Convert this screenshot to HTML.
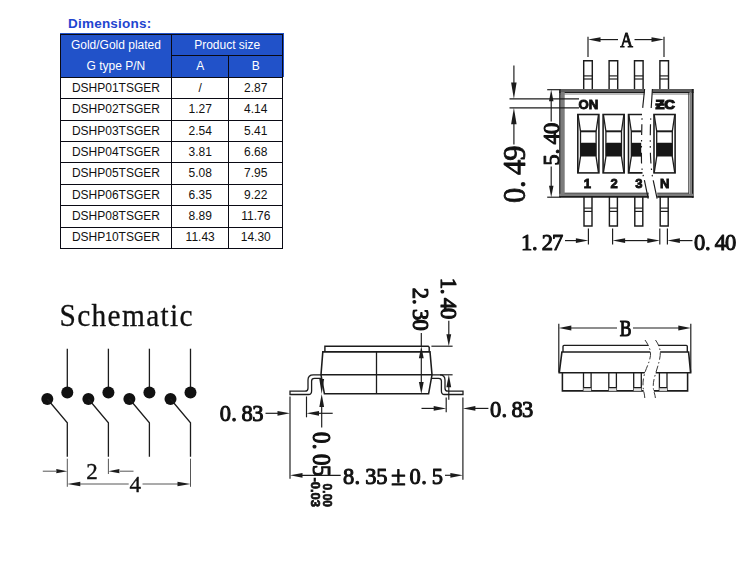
<!DOCTYPE html>
<html lang="en"><head><meta charset="utf-8"><title>Dimensions</title>
<style>
html,body{margin:0;padding:0;background:#fff;}
body{width:750px;height:576px;position:relative;overflow:hidden;font-family:"Liberation Sans",sans-serif;}
.title{position:absolute;left:68px;top:15.8px;font-size:13.5px;letter-spacing:0.22px;font-weight:bold;color:#1f45d0;line-height:16px;white-space:nowrap;}
.c{position:absolute;text-align:center;font-size:12px;color:#111;white-space:nowrap;}
.c.h{color:#fff;}
.hd{position:absolute;background:#2152c9;}
.ln{position:absolute;background:#0a0a14;}
svg{position:absolute;left:0;top:0;filter:blur(0.35px);}
svg text.cad{font-family:"Liberation Serif","Noto Serif CJK SC",serif;fill:#111;stroke:#111;stroke-width:1.0;stroke-linejoin:round;}
svg text.bs{font-family:"Liberation Sans",sans-serif;font-weight:bold;fill:#111;stroke:#111;stroke-width:0.5;}
</style></head><body>
<div class="title">Dimensions:</div>
<div class="tbl">
<div class="hd" style="left:59.70px;top:32.80px;width:224.00px;height:44.50px"></div>
<div class="c h" style="left:60.30px;top:35.00px;width:111.30px;height:21.60px;line-height:21.60px">Gold/Gold plated</div>
<div class="c h" style="left:60.30px;top:54.60px;width:111.30px;height:22.70px;line-height:22.70px">G type P/N</div>
<div class="c h" style="left:171.60px;top:35.40px;width:111.10px;height:21.60px;line-height:21.60px">Product size</div>
<div class="c h" style="left:171.60px;top:55.20px;width:57.20px;height:22.70px;line-height:22.70px">A</div>
<div class="c h" style="left:228.80px;top:55.20px;width:53.90px;height:22.70px;line-height:22.70px">B</div>
<div class="c " style="left:60.30px;top:77.84px;width:111.30px;height:20.00px;line-height:20.00px">DSHP01TSGER</div>
<div class="c " style="left:171.60px;top:77.84px;width:57.20px;height:20.00px;line-height:20.00px">/</div>
<div class="c " style="left:228.80px;top:77.84px;width:53.90px;height:20.00px;line-height:20.00px">2.87</div>
<div class="c " style="left:60.30px;top:98.84px;width:111.30px;height:20.00px;line-height:20.00px">DSHP02TSGER</div>
<div class="c " style="left:171.60px;top:98.84px;width:57.20px;height:20.00px;line-height:20.00px">1.27</div>
<div class="c " style="left:228.80px;top:98.84px;width:53.90px;height:20.00px;line-height:20.00px">4.14</div>
<div class="c " style="left:60.30px;top:120.84px;width:111.30px;height:20.00px;line-height:20.00px">DSHP03TSGER</div>
<div class="c " style="left:171.60px;top:120.84px;width:57.20px;height:20.00px;line-height:20.00px">2.54</div>
<div class="c " style="left:228.80px;top:120.84px;width:53.90px;height:20.00px;line-height:20.00px">5.41</div>
<div class="c " style="left:60.30px;top:141.84px;width:111.30px;height:20.00px;line-height:20.00px">DSHP04TSGER</div>
<div class="c " style="left:171.60px;top:141.84px;width:57.20px;height:20.00px;line-height:20.00px">3.81</div>
<div class="c " style="left:228.80px;top:141.84px;width:53.90px;height:20.00px;line-height:20.00px">6.68</div>
<div class="c " style="left:60.30px;top:162.84px;width:111.30px;height:20.00px;line-height:20.00px">DSHP05TSGER</div>
<div class="c " style="left:171.60px;top:162.84px;width:57.20px;height:20.00px;line-height:20.00px">5.08</div>
<div class="c " style="left:228.80px;top:162.84px;width:53.90px;height:20.00px;line-height:20.00px">7.95</div>
<div class="c " style="left:60.30px;top:184.84px;width:111.30px;height:20.00px;line-height:20.00px">DSHP06TSGER</div>
<div class="c " style="left:171.60px;top:184.84px;width:57.20px;height:20.00px;line-height:20.00px">6.35</div>
<div class="c " style="left:228.80px;top:184.84px;width:53.90px;height:20.00px;line-height:20.00px">9.22</div>
<div class="c " style="left:60.30px;top:205.84px;width:111.30px;height:20.00px;line-height:20.00px">DSHP08TSGER</div>
<div class="c " style="left:171.60px;top:205.84px;width:57.20px;height:20.00px;line-height:20.00px">8.89</div>
<div class="c " style="left:228.80px;top:205.84px;width:53.90px;height:20.00px;line-height:20.00px">11.76</div>
<div class="c " style="left:60.30px;top:226.84px;width:111.30px;height:20.00px;line-height:20.00px">DSHP10TSGER</div>
<div class="c " style="left:171.60px;top:226.84px;width:57.20px;height:20.00px;line-height:20.00px">11.43</div>
<div class="c " style="left:228.80px;top:226.84px;width:53.90px;height:20.00px;line-height:20.00px">14.30</div>
<div class="ln" style="left:59.75px;top:33.65px;width:223.50px;height:1.1px"></div>
<div class="ln" style="left:171.05px;top:54.65px;width:112.20px;height:1.1px"></div>
<div class="ln" style="left:59.75px;top:76.75px;width:223.50px;height:1.1px"></div>
<div class="ln" style="left:59.75px;top:98.15px;width:223.50px;height:1.1px"></div>
<div class="ln" style="left:59.75px;top:119.55px;width:223.50px;height:1.1px"></div>
<div class="ln" style="left:59.75px;top:140.95px;width:223.50px;height:1.1px"></div>
<div class="ln" style="left:59.75px;top:162.35px;width:223.50px;height:1.1px"></div>
<div class="ln" style="left:59.75px;top:183.75px;width:223.50px;height:1.1px"></div>
<div class="ln" style="left:59.75px;top:205.15px;width:223.50px;height:1.1px"></div>
<div class="ln" style="left:59.75px;top:226.55px;width:223.50px;height:1.1px"></div>
<div class="ln" style="left:59.75px;top:247.95px;width:223.50px;height:1.1px"></div>
<div class="ln" style="left:59.75px;top:33.65px;width:1.1px;height:215.40px"></div>
<div class="ln" style="left:171.05px;top:33.65px;width:1.1px;height:215.40px"></div>
<div class="ln" style="left:228.25px;top:54.65px;width:1.1px;height:194.40px"></div>
<div class="ln" style="left:282.15px;top:33.65px;width:1.1px;height:215.40px"></div>
</div>
<svg width="750" height="576" viewBox="0 0 750 576">
<line x1="588.0" y1="36.8" x2="588.0" y2="57.0" stroke="#1c1c1c" stroke-width="1.17" />
<line x1="664.0" y1="36.8" x2="664.0" y2="57.0" stroke="#1c1c1c" stroke-width="1.17" />
<polygon points="588.0,39.6 600.5,37.2 600.5,42.0" fill="#1c1c1c"/>
<polygon points="664.0,39.6 651.5,37.2 651.5,42.0" fill="#1c1c1c"/>
<line x1="600.0" y1="39.6" x2="618.0" y2="39.6" stroke="#1c1c1c" stroke-width="1.17" />
<line x1="634.5" y1="39.6" x2="652.0" y2="39.6" stroke="#1c1c1c" stroke-width="1.17" />
<text class="cad" transform="translate(620.8,47.0) scale(0.8,1)" x="7.19" y="0" font-size="22" text-anchor="middle" style="stroke-width:1.0">A</text>
<path d="M583.7,89.5 V60.8 H592.3 V89.5" stroke="#1c1c1c" stroke-width="1.43" fill="none" />
<line x1="583.7" y1="75.9" x2="592.3" y2="75.9" stroke="#1c1c1c" stroke-width="1.17" />
<line x1="583.7" y1="79.0" x2="592.3" y2="79.0" stroke="#1c1c1c" stroke-width="1.17" />
<path d="M584.0,197 V226 H592.0 V197" stroke="#1c1c1c" stroke-width="1.43" fill="none" />
<line x1="584.0" y1="208.1" x2="592.0" y2="208.1" stroke="#1c1c1c" stroke-width="1.17" />
<line x1="584.0" y1="211.4" x2="592.0" y2="211.4" stroke="#1c1c1c" stroke-width="1.17" />
<path d="M609.1,89.5 V60.8 H617.7 V89.5" stroke="#1c1c1c" stroke-width="1.43" fill="none" />
<line x1="609.1" y1="75.9" x2="617.7" y2="75.9" stroke="#1c1c1c" stroke-width="1.17" />
<line x1="609.1" y1="79.0" x2="617.7" y2="79.0" stroke="#1c1c1c" stroke-width="1.17" />
<path d="M609.4,197 V226 H617.4 V197" stroke="#1c1c1c" stroke-width="1.43" fill="none" />
<line x1="609.4" y1="208.1" x2="617.4" y2="208.1" stroke="#1c1c1c" stroke-width="1.17" />
<line x1="609.4" y1="211.4" x2="617.4" y2="211.4" stroke="#1c1c1c" stroke-width="1.17" />
<path d="M634.5,89.5 V60.8 H643.1 V89.5" stroke="#1c1c1c" stroke-width="1.43" fill="none" />
<line x1="634.5" y1="75.9" x2="643.1" y2="75.9" stroke="#1c1c1c" stroke-width="1.17" />
<line x1="634.5" y1="79.0" x2="643.1" y2="79.0" stroke="#1c1c1c" stroke-width="1.17" />
<path d="M634.8,197 V226 H642.8 V197" stroke="#1c1c1c" stroke-width="1.43" fill="none" />
<line x1="634.8" y1="208.1" x2="642.8" y2="208.1" stroke="#1c1c1c" stroke-width="1.17" />
<line x1="634.8" y1="211.4" x2="642.8" y2="211.4" stroke="#1c1c1c" stroke-width="1.17" />
<path d="M659.9,89.5 V60.8 H668.5 V89.5" stroke="#1c1c1c" stroke-width="1.43" fill="none" />
<line x1="659.9" y1="75.9" x2="668.5" y2="75.9" stroke="#1c1c1c" stroke-width="1.17" />
<line x1="659.9" y1="79.0" x2="668.5" y2="79.0" stroke="#1c1c1c" stroke-width="1.17" />
<path d="M660.2,197 V226 H668.2 V197" stroke="#1c1c1c" stroke-width="1.43" fill="none" />
<line x1="660.2" y1="208.1" x2="668.2" y2="208.1" stroke="#1c1c1c" stroke-width="1.17" />
<line x1="660.2" y1="211.4" x2="668.2" y2="211.4" stroke="#1c1c1c" stroke-width="1.17" />
<line x1="559.2" y1="90.5" x2="644.6" y2="90.5" stroke="#5c5c5c" stroke-width="3.0"/>
<line x1="560.0" y1="93.9" x2="644.6" y2="93.9" stroke="#a6a6a6" stroke-width="1.5"/>
<line x1="559.2" y1="92.5" x2="644.6" y2="92.5" stroke="#1c1c1c" stroke-width="1.1"/>
<line x1="652.2" y1="90.5" x2="693.6" y2="90.5" stroke="#5c5c5c" stroke-width="3.0"/>
<line x1="652.2" y1="93.9" x2="690.0" y2="93.9" stroke="#a6a6a6" stroke-width="1.5"/>
<line x1="652.2" y1="92.5" x2="693.6" y2="92.5" stroke="#1c1c1c" stroke-width="1.1"/>
<line x1="562.6" y1="92.0" x2="562.6" y2="196.0" stroke="#7c7c7c" stroke-width="4.2"/>
<line x1="559.9" y1="89.0" x2="559.9" y2="197.8" stroke="#1c1c1c" stroke-width="1.4"/>
<line x1="690.6" y1="92.0" x2="690.6" y2="196.0" stroke="#7c7c7c" stroke-width="2.3"/>
<line x1="688.6" y1="93.0" x2="688.6" y2="193.5" stroke="#333" stroke-width="0.8"/>
<line x1="692.7" y1="89.0" x2="692.7" y2="197.8" stroke="#1c1c1c" stroke-width="1.8"/>
<line x1="559.2" y1="194.8" x2="648.8" y2="194.8" stroke="#7c7c7c" stroke-width="2.3"/>
<line x1="564.5" y1="193.2" x2="648.8" y2="193.2" stroke="#2a2a2a" stroke-width="1.0"/>
<line x1="559.2" y1="196.9" x2="648.8" y2="196.9" stroke="#1c1c1c" stroke-width="1.8"/>
<line x1="657.2" y1="194.8" x2="693.6" y2="194.8" stroke="#7c7c7c" stroke-width="2.3"/>
<line x1="657.2" y1="193.2" x2="689.0" y2="193.2" stroke="#2a2a2a" stroke-width="1.0"/>
<line x1="657.2" y1="196.9" x2="693.6" y2="196.9" stroke="#1c1c1c" stroke-width="1.8"/>
<rect x="577.8" y="114.5" width="21.1" height="58.4" stroke="#1c1c1c" stroke-width="1.56" fill="none"/>
<path d="M578.0,114.5 L580.5,131.3 V156.6 L578.0,172.9" stroke="#1c1c1c" stroke-width="1.3" fill="none" />
<path d="M598.5,114.5 L596.1,131.3 V156.6 L598.5,172.9" stroke="#1c1c1c" stroke-width="1.3" fill="none" />
<line x1="580.5" y1="131.3" x2="596.1" y2="131.3" stroke="#1c1c1c" stroke-width="1.95" />
<rect x="580.5" y="142.8" width="15.6" height="13.8" rx="1.2" fill="#161616"/>
<rect x="603.1" y="114.5" width="21.1" height="58.4" stroke="#1c1c1c" stroke-width="1.56" fill="none"/>
<path d="M603.4,114.5 L605.9,131.3 V156.6 L603.4,172.9" stroke="#1c1c1c" stroke-width="1.3" fill="none" />
<path d="M623.9,114.5 L621.5,131.3 V156.6 L623.9,172.9" stroke="#1c1c1c" stroke-width="1.3" fill="none" />
<line x1="605.9" y1="131.3" x2="621.5" y2="131.3" stroke="#1c1c1c" stroke-width="1.95" />
<rect x="605.9" y="142.8" width="15.6" height="13.8" rx="1.2" fill="#161616"/>
<path d="M642.0,114.5 H628.5 V172.9 H642.5" stroke="#1c1c1c" stroke-width="1.56" fill="none" />
<path d="M628.8,114.5 L631.3,131.3 V156.6 L628.8,172.9" stroke="#1c1c1c" stroke-width="1.3" fill="none" />
<line x1="631.3" y1="131.3" x2="641.2" y2="131.3" stroke="#1c1c1c" stroke-width="1.95" />
<rect x="631.3" y="142.8" width="9.9" height="13.8" fill="#161616"/>
<rect x="654.0" y="114.5" width="21.1" height="58.4" stroke="#1c1c1c" stroke-width="1.56" fill="none"/>
<path d="M654.2,114.5 L656.7,131.3 V156.6 L654.2,172.9" stroke="#1c1c1c" stroke-width="1.3" fill="none" />
<path d="M674.8,114.5 L672.3,131.3 V156.6 L674.8,172.9" stroke="#1c1c1c" stroke-width="1.3" fill="none" />
<line x1="656.7" y1="131.3" x2="672.3" y2="131.3" stroke="#1c1c1c" stroke-width="1.95" />
<rect x="656.7" y="142.8" width="15.6" height="13.8" rx="1.2" fill="#161616"/>
<path d="M644.6,89 C644,96 643.2,102 642.7,108 C642.2,114 641.9,119 641.8,128 C641.5,140 641.3,152 641.5,162 C641.7,168 642.5,172 643.3,176 L644.5,180.6 L648.2,198.6" stroke="#1c1c1c" stroke-width="1.17" fill="none" stroke-dasharray="19 10.5 1.5 4.5 10.5 5 1.5 4.5 1.5 5 11 5 1.5 5 1.5 4 30"/>
<path d="M652.4,89 C652,96 651.6,102 651.2,108 C651,114 650.6,120 650.4,128 C650.2,140 650.2,150 650.6,158 C650.9,164 651.4,169 652,174 L653.5,181.7 L657.1,198.6" stroke="#1c1c1c" stroke-width="1.17" fill="none" stroke-dasharray="19 10.5 1.5 4.5 10.5 5 1.5 4.5 1.5 5 11 5 1.5 5 1.5 4 30"/>
<text class="bs" x="588.3" y="109" font-size="13.2" style="stroke-width:0.9" text-anchor="middle">ON</text>
<text class="bs" x="655.4" y="109.2" font-size="13.6" style="stroke-width:1.2" textLength="19.6" lengthAdjust="spacingAndGlyphs">ƵC</text>
<text class="bs" x="587.4" y="187.7" font-size="13" style="stroke-width:0.9" text-anchor="middle">1</text>
<text class="bs" x="614" y="187.7" font-size="13" style="stroke-width:0.9" text-anchor="middle">2</text>
<text class="bs" x="638.8" y="187.7" font-size="13" style="stroke-width:0.9" text-anchor="middle">3</text>
<text class="bs" x="664.8" y="187.7" font-size="13" style="stroke-width:0.9" text-anchor="middle">N</text>
<line x1="509.5" y1="98.9" x2="579.0" y2="98.9" stroke="#1c1c1c" stroke-width="1.3" />
<line x1="509.5" y1="107.8" x2="579.0" y2="107.8" stroke="#1c1c1c" stroke-width="1.3" />
<line x1="513.9" y1="65.6" x2="513.9" y2="86.0" stroke="#1c1c1c" stroke-width="1.17" />
<polygon points="513.9,98.9 511.1,82.4 516.6,82.4" fill="#1c1c1c"/>
<polygon points="513.9,107.8 511.1,124.3 516.6,124.3" fill="#1c1c1c"/>
<line x1="513.9" y1="124.0" x2="513.9" y2="144.4" stroke="#1c1c1c" stroke-width="1.17" />
<text class="cad" transform="translate(525.0,202.5) rotate(-90)" x="7.05 18.33 35.25 49.35" y="0" font-size="30.5" text-anchor="middle" style="stroke-width:0.8">0.49</text>
<line x1="547.2" y1="89.7" x2="559.0" y2="89.7" stroke="#1c1c1c" stroke-width="1.17" />
<line x1="547.2" y1="197.2" x2="559.0" y2="197.2" stroke="#1c1c1c" stroke-width="1.17" />
<polygon points="551.2,89.7 549.0,101.2 553.5,101.2" fill="#1c1c1c"/>
<line x1="551.2" y1="101.0" x2="551.2" y2="121.5" stroke="#1c1c1c" stroke-width="1.17" />
<line x1="551.2" y1="166.5" x2="551.2" y2="186.0" stroke="#1c1c1c" stroke-width="1.17" />
<polygon points="551.2,197.2 549.0,185.7 553.5,185.7" fill="#1c1c1c"/>
<text class="cad" transform="translate(559.0,165.0) rotate(-90)" x="5.25 13.65 26.25 36.75" y="0" font-size="22.5" text-anchor="middle" >5.40</text>
<line x1="588.4" y1="228.5" x2="588.4" y2="244.6" stroke="#1c1c1c" stroke-width="1.17" />
<line x1="612.6" y1="228.5" x2="612.6" y2="244.6" stroke="#1c1c1c" stroke-width="1.17" />
<line x1="659.8" y1="228.5" x2="659.8" y2="244.6" stroke="#1c1c1c" stroke-width="1.17" />
<line x1="667.4" y1="228.5" x2="667.4" y2="244.6" stroke="#1c1c1c" stroke-width="1.17" />
<text class="cad" transform="translate(521.5,250.0)" x="5.15 13.39 25.75 36.05" y="0" font-size="22.5" text-anchor="middle" >1.27</text>
<line x1="565.0" y1="240.6" x2="576.0" y2="240.6" stroke="#1c1c1c" stroke-width="1.17" />
<polygon points="588.4,240.6 575.9,238.2 575.9,243.0" fill="#1c1c1c"/>
<polygon points="612.6,240.6 625.1,238.2 625.1,243.0" fill="#1c1c1c"/>
<polygon points="659.8,240.6 647.3,238.2 647.3,243.0" fill="#1c1c1c"/>
<line x1="624.0" y1="240.6" x2="648.0" y2="240.6" stroke="#1c1c1c" stroke-width="1.17" />
<polygon points="667.4,240.6 679.9,238.2 679.9,243.0" fill="#1c1c1c"/>
<line x1="679.0" y1="240.6" x2="692.5" y2="240.6" stroke="#1c1c1c" stroke-width="1.17" />
<text class="cad" transform="translate(694.5,250.0)" x="5.15 13.39 25.75 36.05" y="0" font-size="22.5" text-anchor="middle" >0.40</text>
<text class="cad" transform="translate(59.6,325.6) scale(0.92,1)" font-size="32" style="stroke-width:0.3" textLength="144.5" lengthAdjust="spacing">Schematic</text>
<line x1="67.3" y1="348.7" x2="67.3" y2="392.0" stroke="#1c1c1c" stroke-width="1.3" />
<circle cx="67.3" cy="392.6" r="6" fill="#111"/>
<circle cx="47.3" cy="399" r="6" fill="#111"/>
<path d="M47.3,399 L67.3,422.8 V456.8" stroke="#1c1c1c" stroke-width="1.3" fill="none" />
<line x1="108.4" y1="348.7" x2="108.4" y2="392.0" stroke="#1c1c1c" stroke-width="1.3" />
<circle cx="108.4" cy="392.6" r="6" fill="#111"/>
<circle cx="88.4" cy="399" r="6" fill="#111"/>
<path d="M88.4,399 L108.4,422.8 V456.8" stroke="#1c1c1c" stroke-width="1.3" fill="none" />
<line x1="149.4" y1="348.7" x2="149.4" y2="392.0" stroke="#1c1c1c" stroke-width="1.3" />
<circle cx="149.4" cy="392.6" r="6" fill="#111"/>
<circle cx="129.4" cy="399" r="6" fill="#111"/>
<path d="M129.4,399 L149.4,422.8 V456.8" stroke="#1c1c1c" stroke-width="1.3" fill="none" />
<line x1="190.5" y1="348.7" x2="190.5" y2="392.0" stroke="#1c1c1c" stroke-width="1.3" />
<circle cx="190.5" cy="392.6" r="6" fill="#111"/>
<circle cx="170.5" cy="399" r="6" fill="#111"/>
<path d="M170.5,399 L190.5,422.8 V456.8" stroke="#1c1c1c" stroke-width="1.3" fill="none" />
<line x1="67.3" y1="458.7" x2="67.3" y2="486.8" stroke="#444" stroke-width="0.91" />
<line x1="108.4" y1="458.7" x2="108.4" y2="474.0" stroke="#444" stroke-width="0.91" />
<line x1="190.5" y1="458.7" x2="190.5" y2="486.8" stroke="#444" stroke-width="0.91" />
<line x1="42.8" y1="471.2" x2="56.0" y2="471.2" stroke="#444" stroke-width="0.91" />
<polygon points="67.3,471.2 56.3,469.1 56.3,473.3" fill="#1c1c1c"/>
<polygon points="108.4,471.2 119.4,469.1 119.4,473.3" fill="#1c1c1c"/>
<line x1="120.0" y1="471.2" x2="133.5" y2="471.2" stroke="#444" stroke-width="0.91" />
<text class="cad" transform="translate(86.5,478.6)" x="5.50" y="0" font-size="23" text-anchor="middle" style="stroke-width:0.35">2</text>
<polygon points="67.3,484.0 67.2,483.9 67.2,484.1" fill="#1c1c1c"/>
<polygon points="67.3,484.0 80.3,481.8 80.3,486.2" fill="#1c1c1c"/>
<line x1="80.0" y1="484.0" x2="128.7" y2="484.0" stroke="#444" stroke-width="0.91" />
<text class="cad" transform="translate(129.8,491.8)" x="5.50" y="0" font-size="23" text-anchor="middle" style="stroke-width:0.35">4</text>
<line x1="142.5" y1="484.0" x2="178.5" y2="484.0" stroke="#444" stroke-width="0.91" />
<polygon points="190.5,484.0 177.5,481.8 177.5,486.2" fill="#1c1c1c"/>
<path d="M324.9,351.9 V346.2 H428.2 L429.2,347.2 V351.9" stroke="#1c1c1c" stroke-width="1.43" fill="none" />
<path d="M322.8,351.9 H430 L432,374.8 L428.6,393.8 H324.4 L321,374.8 Z" stroke="#1c1c1c" stroke-width="1.56" fill="none" />
<line x1="321.0" y1="374.8" x2="432.0" y2="374.8" stroke="#1c1c1c" stroke-width="1.43" />
<line x1="376.5" y1="351.9" x2="376.5" y2="393.8" stroke="#1c1c1c" stroke-width="1.3" />
<path d="M321.2,374.8 H313.3 Q308.0,374.8 308.0,380 V388.2 Q308.0,391.2 305.0,391.2 H290.0 V394.5 H308.5 Q311.6,394.5 311.6,391 V381 Q311.6,378.3 314.5,378.3 H321.8" stroke="#1c1c1c" stroke-width="1.3" fill="none" />
<path d="M431.8,374.8 H439.7 Q445.0,374.8 445.0,380 V388.2 Q445.0,391.2 448.0,391.2 H463.0 V394.5 H444.5 Q441.4,394.5 441.4,391 V381 Q441.4,378.3 438.5,378.3 H431.2" stroke="#1c1c1c" stroke-width="1.3" fill="none" />
<text class="cad" transform="translate(413.0,288.0) rotate(90)" x="5.30 13.78 26.50 37.10" y="0" font-size="22.5" text-anchor="middle" style="stroke-width:1.15">2.30</text>
<line x1="421.3" y1="333.0" x2="421.3" y2="346.0" stroke="#1c1c1c" stroke-width="1.17" />
<polygon points="421.3,346.2 418.9,358.2 423.7,358.2" fill="#1c1c1c"/>
<line x1="421.3" y1="358.0" x2="421.3" y2="382.0" stroke="#1c1c1c" stroke-width="1.17" />
<polygon points="421.3,394.0 418.9,382.0 423.7,382.0" fill="#1c1c1c"/>
<text class="cad" transform="translate(440.5,278.4) rotate(90)" x="5.05 13.13 25.25 35.35" y="0" font-size="22.5" text-anchor="middle" style="stroke-width:1.15">1.40</text>
<line x1="448.8" y1="320.8" x2="448.8" y2="335.0" stroke="#1c1c1c" stroke-width="1.17" />
<polygon points="448.8,346.2 446.4,334.2 451.2,334.2" fill="#1c1c1c"/>
<line x1="431.4" y1="346.2" x2="452.6" y2="346.2" stroke="#1c1c1c" stroke-width="1.17" />
<line x1="440.0" y1="374.8" x2="452.6" y2="374.8" stroke="#1c1c1c" stroke-width="1.17" />
<polygon points="448.8,374.8 446.4,387.3 451.2,387.3" fill="#1c1c1c"/>
<line x1="448.8" y1="387.0" x2="448.8" y2="399.7" stroke="#1c1c1c" stroke-width="1.17" />
<polygon points="321.7,394.0 319.3,379.0 324.1,379.0" fill="#1c1c1c"/>
<polygon points="321.7,394.0 319.3,407.0 324.1,407.0" fill="#1c1c1c"/>
<line x1="321.7" y1="406.0" x2="321.7" y2="427.5" stroke="#1c1c1c" stroke-width="1.17" />
<text class="cad" transform="translate(313.2,432.3) rotate(90) scale(0.93,1)" x="5.91 15.38 29.57 41.40" y="0" font-size="24.5" text-anchor="middle" style="stroke-width:1.1">0.05</text>
<text class="bs" transform="translate(323.2,483.6) rotate(90)" font-size="12.6" style="stroke-width:0.7" textLength="23.4" lengthAdjust="spacingAndGlyphs">0.00</text>
<text class="bs" transform="translate(310.8,477.4) rotate(90)" font-size="12.6" style="stroke-width:0.7" textLength="29.6" lengthAdjust="spacingAndGlyphs">-0.03</text>
<text class="cad" transform="translate(219.8,421.3)" x="5.45 14.17 27.25 38.15" y="0" font-size="22.5" text-anchor="middle" >0.83</text>
<line x1="265.5" y1="413.3" x2="278.0" y2="413.3" stroke="#1c1c1c" stroke-width="1.17" />
<polygon points="290.0,413.3 277.5,410.9 277.5,415.7" fill="#1c1c1c"/>
<line x1="290.0" y1="396.5" x2="290.0" y2="478.7" stroke="#1c1c1c" stroke-width="1.17" />
<line x1="306.5" y1="396.5" x2="306.5" y2="417.3" stroke="#1c1c1c" stroke-width="1.17" />
<polygon points="306.5,413.3 319.0,410.9 319.0,415.7" fill="#1c1c1c"/>
<line x1="318.0" y1="413.3" x2="332.7" y2="413.3" stroke="#1c1c1c" stroke-width="1.17" />
<line x1="446.2" y1="397.6" x2="446.2" y2="412.3" stroke="#1c1c1c" stroke-width="1.17" />
<line x1="462.9" y1="397.6" x2="462.9" y2="479.7" stroke="#1c1c1c" stroke-width="1.17" />
<line x1="421.5" y1="408.4" x2="434.0" y2="408.4" stroke="#1c1c1c" stroke-width="1.17" />
<polygon points="446.2,408.4 433.7,406.0 433.7,410.8" fill="#1c1c1c"/>
<polygon points="462.9,408.4 475.4,406.0 475.4,410.8" fill="#1c1c1c"/>
<line x1="475.0" y1="408.4" x2="488.4" y2="408.4" stroke="#1c1c1c" stroke-width="1.17" />
<text class="cad" transform="translate(490.3,416.6)" x="5.35 13.91 26.75 37.45" y="0" font-size="22.5" text-anchor="middle" >0.83</text>
<polygon points="290.0,475.3 302.5,472.9 302.5,477.7" fill="#1c1c1c"/>
<line x1="302.0" y1="475.3" x2="340.7" y2="475.3" stroke="#1c1c1c" stroke-width="1.17" />
<text class="cad" transform="translate(343.0,484.0)" x="5.55 14.43 27.75 38.85 55.50 72.15 81.03 94.35" y="0" font-size="22.5" text-anchor="middle" >8.35<tspan font-size="27" dy="1">±</tspan><tspan dy="-1">0.5</tspan></text>
<line x1="445.0" y1="475.3" x2="452.0" y2="475.3" stroke="#1c1c1c" stroke-width="1.17" />
<polygon points="462.9,475.3 450.4,472.9 450.4,477.7" fill="#1c1c1c"/>
<line x1="558.8" y1="323.8" x2="558.8" y2="372.4" stroke="#1c1c1c" stroke-width="1.17" />
<line x1="690.8" y1="323.8" x2="690.8" y2="372.6" stroke="#1c1c1c" stroke-width="1.17" />
<polygon points="558.8,328.0 571.3,325.6 571.3,330.4" fill="#1c1c1c"/>
<polygon points="690.8,328.0 678.3,325.6 678.3,330.4" fill="#1c1c1c"/>
<line x1="570.0" y1="328.0" x2="617.0" y2="328.0" stroke="#1c1c1c" stroke-width="1.17" />
<line x1="633.0" y1="328.0" x2="679.5" y2="328.0" stroke="#1c1c1c" stroke-width="1.17" />
<text class="cad" transform="translate(619.9,336.0) scale(0.78,1)" x="7.37" y="0" font-size="22.5" text-anchor="middle" style="stroke-width:1.1">B</text>
<defs><clipPath id="bl"><path d="M645,340 C648.5,345 651,350 650.5,355.5 C649.5,363 646,368 644.5,374 C642.5,381 642.8,386 643.5,390 C644,393 644.8,396 644.8,398 H540 V340 Z"/></clipPath><clipPath id="br"><path d="M655.5,340 C659,345 660.8,350 660.2,355.5 C659.3,363 657,368 655.5,374 C653.2,381 652.8,386 653.6,390 C654.2,393 655.4,396 655.4,398 H710 V340 Z"/></clipPath></defs>
<g clip-path="url(#bl)">
<path d="M563,352 V346.4 Q563,345.4 564,345.4 H686.3 Q687.3,345.4 687.3,346.4 V352" stroke="#1c1c1c" stroke-width="1.37" fill="none" />
<path d="M561.9,352 H688.6 L690.6,372.7 H559.3 Z" stroke="#1c1c1c" stroke-width="1.62" fill="none" />
<path d="M562.4,372.7 V390.9 H687.6 V372.7" stroke="#1c1c1c" stroke-width="1.56" fill="none" />
<line x1="583.5" y1="372.7" x2="583.5" y2="390.9" stroke="#1c1c1c" stroke-width="1.3" />
<line x1="591.1" y1="372.7" x2="591.1" y2="390.9" stroke="#1c1c1c" stroke-width="1.3" />
<rect x="583.5" y="387.6" width="7.6" height="3.3" fill="#e4e4e4"/>
<line x1="583.5" y1="387.6" x2="591.1" y2="387.6" stroke="#1c1c1c" stroke-width="1.17" />
<line x1="608.8" y1="372.7" x2="608.8" y2="390.9" stroke="#1c1c1c" stroke-width="1.3" />
<line x1="616.4" y1="372.7" x2="616.4" y2="390.9" stroke="#1c1c1c" stroke-width="1.3" />
<rect x="608.8" y="387.6" width="7.6" height="3.3" fill="#e4e4e4"/>
<line x1="608.8" y1="387.6" x2="616.4" y2="387.6" stroke="#1c1c1c" stroke-width="1.17" />
<line x1="633.7" y1="372.7" x2="633.7" y2="390.9" stroke="#1c1c1c" stroke-width="1.3" />
<line x1="641.3" y1="372.7" x2="641.3" y2="390.9" stroke="#1c1c1c" stroke-width="1.3" />
<rect x="633.7" y="387.6" width="7.6" height="3.3" fill="#e4e4e4"/>
<line x1="633.7" y1="387.6" x2="641.3" y2="387.6" stroke="#1c1c1c" stroke-width="1.17" />
<line x1="659.4" y1="372.7" x2="659.4" y2="390.9" stroke="#1c1c1c" stroke-width="1.3" />
<line x1="667.0" y1="372.7" x2="667.0" y2="390.9" stroke="#1c1c1c" stroke-width="1.3" />
<rect x="659.4" y="387.6" width="7.6" height="3.3" fill="#e4e4e4"/>
<line x1="659.4" y1="387.6" x2="667.0" y2="387.6" stroke="#1c1c1c" stroke-width="1.17" />
</g>
<g clip-path="url(#br)">
<path d="M563,352 V346.4 Q563,345.4 564,345.4 H686.3 Q687.3,345.4 687.3,346.4 V352" stroke="#1c1c1c" stroke-width="1.37" fill="none" />
<path d="M561.9,352 H688.6 L690.6,372.7 H559.3 Z" stroke="#1c1c1c" stroke-width="1.62" fill="none" />
<path d="M562.4,372.7 V390.9 H687.6 V372.7" stroke="#1c1c1c" stroke-width="1.56" fill="none" />
<line x1="583.5" y1="372.7" x2="583.5" y2="390.9" stroke="#1c1c1c" stroke-width="1.3" />
<line x1="591.1" y1="372.7" x2="591.1" y2="390.9" stroke="#1c1c1c" stroke-width="1.3" />
<rect x="583.5" y="387.6" width="7.6" height="3.3" fill="#e4e4e4"/>
<line x1="583.5" y1="387.6" x2="591.1" y2="387.6" stroke="#1c1c1c" stroke-width="1.17" />
<line x1="608.8" y1="372.7" x2="608.8" y2="390.9" stroke="#1c1c1c" stroke-width="1.3" />
<line x1="616.4" y1="372.7" x2="616.4" y2="390.9" stroke="#1c1c1c" stroke-width="1.3" />
<rect x="608.8" y="387.6" width="7.6" height="3.3" fill="#e4e4e4"/>
<line x1="608.8" y1="387.6" x2="616.4" y2="387.6" stroke="#1c1c1c" stroke-width="1.17" />
<line x1="633.7" y1="372.7" x2="633.7" y2="390.9" stroke="#1c1c1c" stroke-width="1.3" />
<line x1="641.3" y1="372.7" x2="641.3" y2="390.9" stroke="#1c1c1c" stroke-width="1.3" />
<rect x="633.7" y="387.6" width="7.6" height="3.3" fill="#e4e4e4"/>
<line x1="633.7" y1="387.6" x2="641.3" y2="387.6" stroke="#1c1c1c" stroke-width="1.17" />
<line x1="659.4" y1="372.7" x2="659.4" y2="390.9" stroke="#1c1c1c" stroke-width="1.3" />
<line x1="667.0" y1="372.7" x2="667.0" y2="390.9" stroke="#1c1c1c" stroke-width="1.3" />
<rect x="659.4" y="387.6" width="7.6" height="3.3" fill="#e4e4e4"/>
<line x1="659.4" y1="387.6" x2="667.0" y2="387.6" stroke="#1c1c1c" stroke-width="1.17" />
</g>
<path d="M645,340 C648.5,345 651,350 650.5,355.5 C649.5,363 646,368 644.5,374 C642.5,381 642.8,386 643.5,390 C644,393 644.8,396 644.8,398" stroke="#333" stroke-width="0.98" fill="none" stroke-dasharray="7 2.5 1.5 2.5"/>
<path d="M655.5,340 C659,345 660.8,350 660.2,355.5 C659.3,363 657,368 655.5,374 C653.2,381 652.8,386 653.6,390 C654.2,393 655.4,396 655.4,398" stroke="#333" stroke-width="0.98" fill="none" stroke-dasharray="7 2.5 1.5 2.5"/>
</svg>
</body></html>
